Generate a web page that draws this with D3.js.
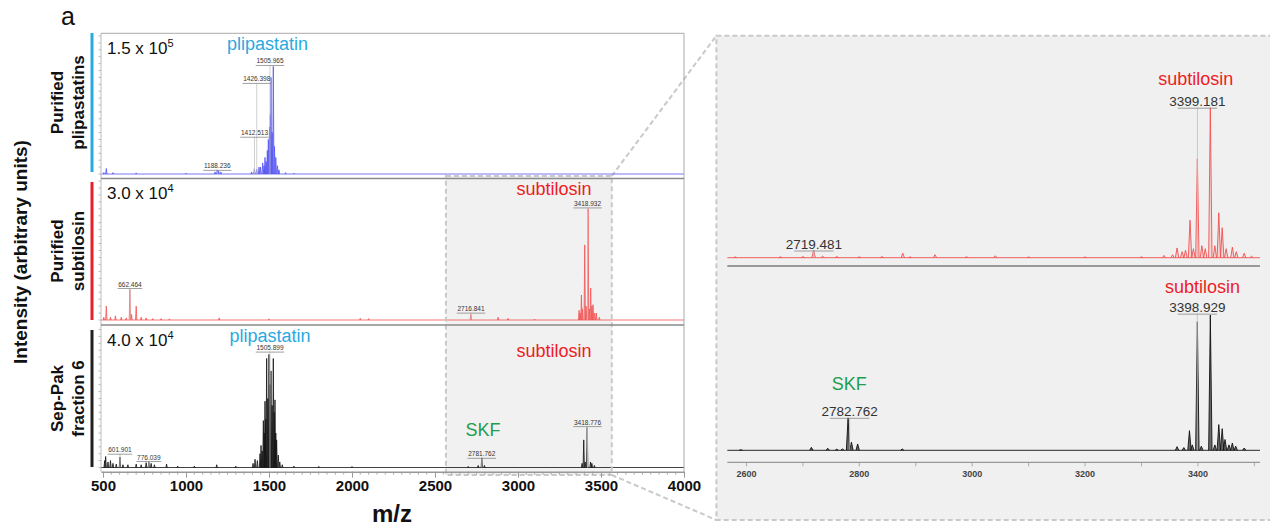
<!DOCTYPE html>
<html><head><meta charset="utf-8">
<script src="https://cdn.jsdelivr.net/npm/d3@7"></script>
<style>
body{margin:0;background:#fff}
svg{display:block}
text{font-family:"Liberation Sans",Arial,Helvetica,sans-serif}
</style>
</head><body>
<svg id="c" width="1270" height="527"></svg>
<script>
// ---------------- DATA ----------------
const xTicks = [500, 1000, 1500, 2000, 2500, 3000, 3500, 4000];
const xMinorStep = 50;
const zoomTicks = [2600, 2800, 3000, 3200, 3400];
const zoomMinorTicks = [2600, 2700, 2800, 2900, 3000, 3100, 3200, 3300, 3400, 3500];
const zoomWindow = [2566, 3565];

const rowLabels = [["Purified", "plipastatins"], ["Purified", "subtilosin"], ["Sep-Pak", "fraction 6"]];
const scaleMantissa = ["1.5 x 10", "3.0 x 10", "4.0 x 10"];
const scaleExponent = ["5", "4", "4"];

// peaks: [m/z, intensity in % of panel full scale]
const plipPeaks = [[505,1],[520,4],[560,1],[700,0.8],[1000,0.6],[1175,1.5],[1188,3],[1196,2.5],[1210,1.5],
  [1395,1.5],[1412,4],[1426,3.5],[1440,5],[1449,5],[1462,8],[1470,6],[1476,12],[1483,9],[1490,17],[1496,25],
  [1503,34],[1508,43],[1512,70],[1519,30],[1526,78],[1533,20],[1541,12],[1551,6],[1560,3],[1600,1],[1650,0.5]];
const subPeaks = [[505,2],[520,10],[545,2],[575,3],[610,2],[640,1.5],[662,22],[672,4],[700,10],[730,2],[760,1.5],
  [800,1],[850,1],[900,0.8],[1200,1.5],[1500,0.8],[2050,1.2],[2100,1],[2716,4],[2880,2],[2940,1.2],[3100,0.6],
  [3368,7],[3375,5],[3382,18],[3388,8],[3402,54],[3410,10],[3422,80],[3430,8],[3438,23],[3445,10],[3452,11],
  [3462,5],[3472,5],[3490,2]];
const sepPeaks = [[510,5],[516,8],[530,4],[545,5],[560,3],[580,2.5],[602,7.6],[620,2],[650,2],[700,2.5],
  [730,2],[760,3.5],[776,4],[790,3],[810,2],[883,2.5],[950,1],[1050,1],[1185,2],[1300,1],
  [1404,3],[1416,6],[1430,5],[1446,10],[1452,16],[1459,12],[1466,34],[1471,25],[1476,48],[1481,35],[1486,79],
  [1493,50],[1500,82],[1506,60],[1512,70],[1519,45],[1526,79],[1531,40],[1536,49],[1541,25],[1546,20],[1556,9],
  [1565,4],[1580,2],[1650,1],[1800,0.8],[2000,0.7],[2700,0.8],[2760,1.5],[2782,7],[2798,1.5],
  [3386,3],[3396,20],[3405,4],[3417,29],[3437,4],[3445,3],[3460,1.5]];
const zoomSubPeaks = [[2580,0.5],[2660,0.6],[2700,0.8],[2719,5],[2735,1],[2760,0.8],[2800,0.6],[2840,0.8],
  [2877,3],[2890,0.6],[2934,2],[2990,0.6],[3041,1.3],[3100,0.5],[3200,0.5],[3300,0.6],[3340,1.5],[3355,2],
  [3363,6.5],[3372,4],[3378,5],[3386,25],[3392,6],[3399,66],[3407,8],[3413,6],[3422,100],[3430,8],[3437,30],
  [3443,20],[3450,6],[3461,7],[3468,4],[3482,3],[3495,1]];
const zoomSepPeaks = [[2590,0.4],[2715,2.2],[2744,1.5],[2760,0.8],[2770,1],[2780,24],[2786,6],[2797,4.7],
  [2876,1],[3363,2.7],[3375,2],[3385,14.5],[3390,4],[3399,95],[3406,3],[3422,100],[3430,4],[3437,19],[3443,16],
  [3448,8],[3455,4],[3461,5.4],[3467,3],[3482,1.7]];

// peak annotations: [m/z, text, height of label bar in %]
const plipLabels = [[1505.965,"1505.965",79],[1426.398,"1426.398",66],[1412.513,"1412.513",27],[1188.236,"1188.236",3]];
const subLabels = [[662.464,"662.464",23],[2716.841,"2716.841",5.3],[3418.932,"3418.932",81]];
const sepLabels = [[1505.899,"1505.899",84],[601.901,"601.901",10],[776.039,"776.039",4.7],[2781.762,"2781.762",7],[3418.776,"3418.776",30]];
const zoomSubLabels = [[3399.181,"3399.181",100],[2719.481,"2719.481",4.8]];
const zoomSepLabels = [[3398.929,"3398.929",101],[2782.762,"2782.762",24]];

// compound names: [m/z of centre, % height of baseline, text, kind]
const plipNames = [[1491, 90, "plipastatin", "plip"]];
const subNames = [[3217, 90, "subtilosin", "sub"]];
const sepNames = [[1506, 91, "plipastatin", "plip"], [3217, 80, "subtilosin", "sub"], [2789, 23, "SKF", "skf"]];
const zoomSubNames = [[3396, 115, "subtilosin", "sub"]];
const zoomSepNames = [[3408, 116.5, "subtilosin", "sub"], [2782, 44.6, "SKF", "skf"]];

// ---------------- STYLE ----------------
const nameColor = {plip: "#29a9e0", sub: "#ee1c25", skf: "#1d9e4e"};
const svg = d3.select("#c");
const X0 = 101, X1 = 684;
const x = d3.scaleLinear().domain([488, 4000]).range([X0, X1]);

const panels = [
  {top: 33, bottom: 178, base: 174, full: 36, peaks: plipPeaks, labels: plipLabels, names: plipNames, color: "#5656f2", bar: "#29abe2", barY: [33, 172]},
  {top: 178, bottom: 325, base: 320, full: 181, peaks: subPeaks, labels: subLabels, names: subNames, color: "#f25454", bar: "#e8202a", barY: [182, 320]},
  {top: 325, bottom: 471.7, base: 467.5, full: 329.5, peaks: sepPeaks, labels: sepLabels, names: sepNames, color: "#111111", bar: "#231f20", barY: [330, 467]}
];

const dashColor = "#c9c9c9";

// right zoom panel background & connectors (drawn first, behind)
const xr = d3.scaleLinear().domain([2566, 3510]).range([727.3, 1260]);
svg.append("rect").attr("x", 716.4).attr("y", 35.7).attr("width", 560).attr("height", 484.3)
  .attr("fill", "#f0f0f0").attr("stroke", dashColor).attr("stroke-width", 2).attr("stroke-dasharray", "5,3");

// left zoom window fill
const zx0 = x(zoomWindow[0]), zx1 = x(zoomWindow[1]);
svg.append("rect").attr("x", zx0).attr("y", 176).attr("width", zx1 - zx0).attr("height", 299).attr("fill", "#f1f1f1");

// connectors
svg.append("line").attr("x1", zx1).attr("y1", 176).attr("x2", 716.4).attr("y2", 35.7)
  .attr("stroke", dashColor).attr("stroke-width", 2).attr("stroke-dasharray", "5,3");
svg.append("line").attr("x1", zx1).attr("y1", 475).attr("x2", 716.4).attr("y2", 520)
  .attr("stroke", dashColor).attr("stroke-width", 2).attr("stroke-dasharray", "5,3");

function drawSpectrum(g, xs, ys, peaks, color, hw, sw, fillOp) {
  const line = d3.line().x(d => xs(d[0])).y(d => ys(d[1]));
  const dom = xs.domain();
  g.append("path").attr("d", line([[dom[0], 0], [dom[1], 0]])).attr("stroke", color).attr("stroke-width", sw).attr("fill", "none");
  peaks.forEach(p => {
    g.append("path").attr("d", line([[p[0] - hw, 0], [p[0], p[1]], [p[0] + hw, 0]]))
      .attr("stroke", color).attr("stroke-width", sw).attr("fill", color).attr("fill-opacity", fillOp)
      .attr("stroke-linejoin", "round");
  });
}

function drawPeakLabel(g, xs, ys, lab, fontSize, color, barFrac, leaderColor) {
  const cx = xs(lab[0]);
  const by = ys(lab[2]);
  const t = g.append("text").attr("x", cx).attr("y", by - 1.5).attr("text-anchor", "middle")
    .attr("font-size", fontSize).attr("fill", color).text(lab[1]);
  const w = t.node().getComputedTextLength() * barFrac;
  g.insert("line", "text").attr("x1", cx).attr("x2", cx).attr("y1", by).attr("y2", ys(0))
    .attr("stroke", leaderColor).attr("stroke-width", 0.8);
  g.append("line").attr("x1", cx - w / 2).attr("x2", cx + w / 2).attr("y1", by + 0.5).attr("y2", by + 0.5)
    .attr("stroke", "#888").attr("stroke-width", 0.8);
}

function drawNames(g, xs, ys, names, fs) {
  names.forEach(n => {
    g.append("text").attr("x", xs(n[0])).attr("y", ys(n[1])).attr("text-anchor", "middle")
      .attr("font-size", fs).attr("fill", nameColor[n[3]]).text(n[2]);
  });
}

// ---------------- LEFT PANELS ----------------
panels.forEach((p, i) => {
  const y = d3.scaleLinear().domain([0, 100]).range([p.base, p.full]);
  const g = svg.append("g");
  // left edge minor ticks
  d3.range(0, 101, 5).forEach(v => {
    g.append("line").attr("x1", X0 - 2.5).attr("x2", X0).attr("y1", y(v)).attr("y2", y(v))
      .attr("stroke", "#aaa").attr("stroke-width", 0.8);
  });
  // leader lines + labels under spectrum
  const lg = g.append("g");
  drawSpectrum(g, x, y, p.peaks, p.color, 4, 0.8, 0.35);
  p.labels.forEach(l => drawPeakLabel(lg, x, y, l, 6.5, "#333", 1.05, "#c4c4c4"));
  lg.raise();
  drawNames(g, x, y, p.names, 18);
  // scale text
  const st = g.append("text").attr("x", 107).attr("y", p.top + 21).attr("font-size", 17).attr("fill", "#111");
  st.append("tspan").text(scaleMantissa[i]);
  st.append("tspan").attr("dy", -7).attr("font-size", 11).text(scaleExponent[i]);
  // colored side bar
  svg.append("line").attr("x1", 92).attr("x2", 92).attr("y1", p.barY[0]).attr("y2", p.barY[1])
    .attr("stroke", p.bar).attr("stroke-width", 3);
  // row label
  const cy = (p.barY[0] + p.barY[1]) / 2;
  const rl = svg.append("text").attr("transform", `translate(63,${cy}) rotate(-90)`).attr("text-anchor", "middle")
    .attr("font-size", 17).attr("font-weight", "bold").attr("fill", "#111");
  rl.append("tspan").attr("x", 0).attr("dy", 0).text(rowLabels[i][0]);
  rl.append("tspan").attr("x", 0).attr("dy", 21).text(rowLabels[i][1]);
});

// left zoom window dashed outline (on top)
svg.append("rect").attr("x", zx0).attr("y", 176).attr("width", zx1 - zx0).attr("height", 299)
  .attr("fill", "none").attr("stroke", dashColor).attr("stroke-width", 2).attr("stroke-dasharray", "5,3");

// panel frame
svg.append("line").attr("x1", X0).attr("x2", X1).attr("y1", 33.3).attr("y2", 33.3).attr("stroke", "#aaa").attr("stroke-width", 1);
svg.append("line").attr("x1", X1).attr("x2", X1).attr("y1", 33.3).attr("y2", 471.7).attr("stroke", "#aaa").attr("stroke-width", 1);
svg.append("line").attr("x1", X0).attr("x2", X0).attr("y1", 33.3).attr("y2", 471.7).attr("stroke", "#bbb").attr("stroke-width", 1);
[178.5, 325].forEach(yy => svg.append("line").attr("x1", X0).attr("x2", X1).attr("y1", yy).attr("y2", yy)
  .attr("stroke", "#8a8a8a").attr("stroke-width", 1.6));

// bottom axis
const axY = 471.7;
const minor = d3.range(500, 4001, xMinorStep).filter(v => v % 500 !== 0);
minor.forEach(v => svg.append("line").attr("x1", x(v)).attr("x2", x(v)).attr("y1", axY).attr("y2", axY + 3)
  .attr("stroke", "#999").attr("stroke-width", 0.8));
const ax = svg.append("g").attr("transform", `translate(0,${axY})`)
  .call(d3.axisBottom(x).tickValues(xTicks).tickSize(6).tickSizeOuter(0).tickFormat(d3.format("d")));
ax.select(".domain").attr("stroke", "#999").attr("stroke-width", 1.6);
ax.selectAll(".tick line").attr("stroke", "#999");
ax.selectAll(".tick text").attr("font-size", 15).attr("font-weight", "bold").attr("fill", "#111")
  .attr("font-family", '"Liberation Sans",Arial,sans-serif');
ax.attr("font-family", null);

svg.append("text").attr("x", 392).attr("y", 522).attr("text-anchor", "middle").attr("font-size", 24)
  .attr("font-weight", "bold").attr("fill", "#111").text("m/z");

svg.append("text").attr("transform", "translate(27,252) rotate(-90)").attr("text-anchor", "middle")
  .attr("font-size", 19).attr("font-weight", "bold").attr("fill", "#111").text("Intensity (arbitrary units)");

svg.append("text").attr("x", 61).attr("y", 25).attr("font-size", 25).attr("fill", "#111").text("a");

// ---------------- RIGHT ZOOM PANEL ----------------
const yrTop = d3.scaleLinear().domain([0, 100]).range([257.7, 107.7]);
const yrBot = d3.scaleLinear().domain([0, 100]).range([450.3, 315]);

const gt = svg.append("g");
const gtl = gt.append("g");
zoomSubLabels.forEach(l => drawPeakLabel(gtl, xr, yrTop, l, 13.5, "#333", 0.7, "#bdbdbd"));
drawSpectrum(gt, xr, yrTop, zoomSubPeaks, "#f25050", 3, 0.9, 0.15);
gtl.raise();
drawNames(gt, xr, yrTop, zoomSubNames, 18);
gt.append("line").attr("x1", xr.range()[0]).attr("x2", xr.range()[1]).attr("y1", 266).attr("y2", 266)
  .attr("stroke", "#999").attr("stroke-width", 2);

const gb = svg.append("g");
const gbl = gb.append("g");
zoomSepLabels.forEach(l => drawPeakLabel(gbl, xr, yrBot, l, 13.5, "#333", 0.7, "#bdbdbd"));
drawSpectrum(gb, xr, yrBot, zoomSepPeaks, "#111", 3, 0.9, 0.6);
gbl.raise();
drawNames(gb, xr, yrBot, zoomSepNames, 18);

const ryAx = 462.3;
gb.append("line").attr("x1", xr.range()[0]).attr("x2", xr.range()[1]).attr("y1", ryAx).attr("y2", ryAx)
  .attr("stroke", "#999").attr("stroke-width", 1.2);
zoomMinorTicks.forEach(v => gb.append("line").attr("x1", xr(v)).attr("x2", xr(v)).attr("y1", ryAx).attr("y2", ryAx + 4)
  .attr("stroke", "#999").attr("stroke-width", 0.8));
zoomTicks.forEach(v => gb.append("text").attr("x", xr(v)).attr("y", ryAx + 15).attr("text-anchor", "middle")
  .attr("font-size", 9).attr("font-weight", "bold").attr("fill", "#444").text(v));
</script>
</body></html>
